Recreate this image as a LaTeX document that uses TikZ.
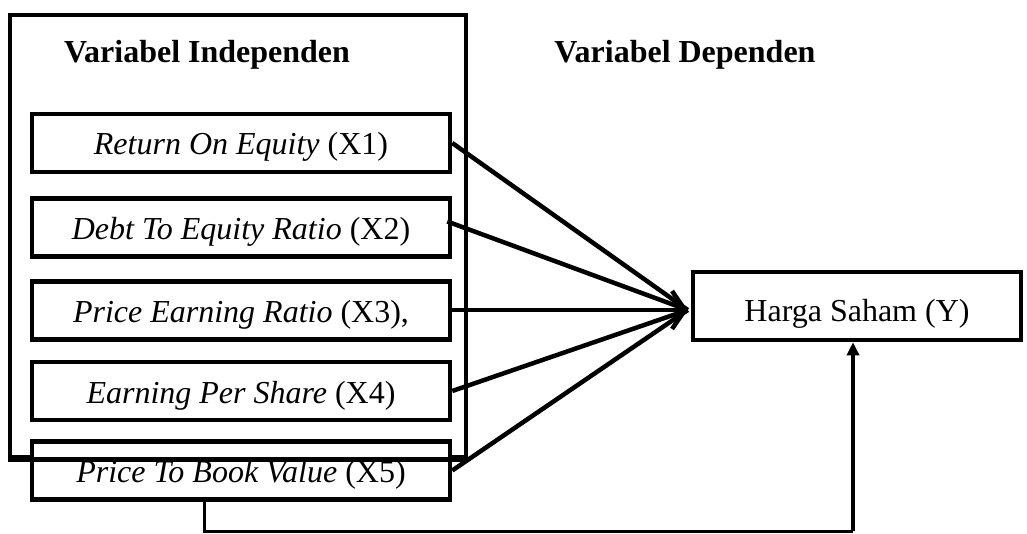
\documentclass[tikz,border=0pt]{standalone}
\usepackage{fontspec}
\setmainfont{Liberation Serif}
\usetikzlibrary{arrows.meta}
\begin{document}
\begin{tikzpicture}[x=1pt,y=-1pt,
  every node/.style={font=\fontsize{32}{38}\selectfont},
  xbox/.style={draw,line width=4.5pt,minimum width=418pt,minimum height=58pt,inner sep=0pt,text height=30pt,text depth=6pt},
  ybox/.style={draw,line width=4.5pt,minimum width=328pt,minimum height=68pt,inner sep=0pt,text height=32pt,text depth=0pt},
  outerbox/.style={draw,line width=4.5pt,minimum width=456pt,minimum height=442pt,inner sep=0pt},
  title/.style={anchor=base,font=\fontsize{32}{38}\selectfont\bfseries},
  link/.style={line width=4.5pt},
  linkarrow/.style={line width=4.5pt,-{Straight Barb[length=13pt,width=38pt]}},
  feed/.style={line width=3pt},
  feedarrow/.style={line width=3.5pt,-{Triangle[length=13pt,width=12pt]}}]
\useasboundingbox (0,0) rectangle (1027,534);
\node[outerbox] (outer) at (238,236) {};
\node[title] (tind) at (207,63) {Variabel Independen};
\node[title] (tdep) at (685,63) {Variabel Dependen};
\node[xbox] (x1) at (241,143) {\textit{Return On Equity} (X1)};
\node[xbox] (x2) at (241,227.5) {\textit{Debt To Equity Ratio} (X2)};
\node[xbox] (x3) at (241,310.5) {\textit{Price Earning Ratio} (X3),};
\node[xbox] (x4) at (241,391) {\textit{Earning Per Share} (X4)};
\node[xbox,fill=white] (x5) at (241,470.5) {\textit{Price To Book Value} (X5)};
\node[ybox] (y) at (857,306) {Harga Saham (Y)};
\coordinate (tip) at ([shift={(-3,4)}]y.west);
\coordinate (b1) at (204,531);
\coordinate (b2) at (853,531);
\draw[link] (x1.east) -- (tip);
\draw[link] ([shift={(-5,-6)}]x2.east) -- (tip);
\draw[link] (x4.east) -- (tip);
\draw[link] (x5.east) -- (tip);
\draw[linkarrow] (x3.east |- tip) -- (tip);
\draw[feed] (x5.south -| b1) -- (b1) -- (b2);
\draw[feedarrow] (b2) -- (y.south -| b2);
\draw[line width=4.5pt] (outer.south west) -- (outer.south east);
\end{tikzpicture}
\end{document}
